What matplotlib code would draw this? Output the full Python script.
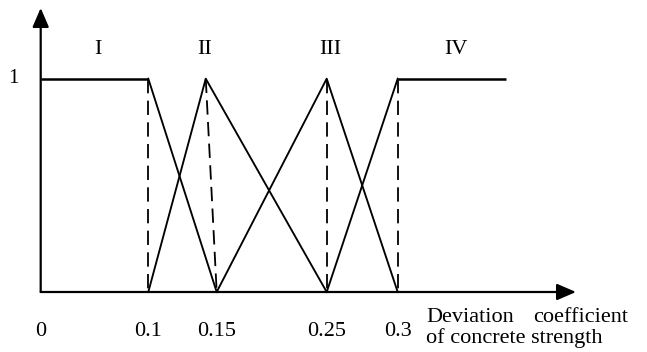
import numpy as np
import matplotlib
matplotlib.use("Agg")
import matplotlib.pyplot as plt

plt.rcParams['font.family'] = ['Liberation Serif', 'DejaVu Serif']
plt.rcParams['lines.scale_dashes'] = False

# ---- data (membership functions, x = deviation coefficient, y = membership) ----
tick_values = [0, 0.1, 0.15, 0.25, 0.3]
tick_labels = ["0", "0.1", "0.15", "0.25", "0.3"]

mf_I_x = [0, 0.1, 0.15]
mf_I_y = [1, 1, 0]
mf_II_x = [0.1, 0.142, 0.25]
mf_II_y = [0, 1, 0]
mf_III_x = [0.15, 0.25, 0.3]
mf_III_y = [0, 1, 0]
mf_IV_x = [0.25, 0.3, 0.376]
mf_IV_y = [0, 1, 1]

dash_x0 = [0.1, 0.142, 0.25, 0.3]
dash_x1 = [0.1, 0.15, 0.25, 0.3]

region_labels = ["I", "II", "III", "IV"]

# ---- figure geometry ----
W, H = 647, 352
fig = plt.figure(figsize=(W / 100, H / 100), dpi=100)
ax = fig.add_axes([0, 0, 1, 1])
ax.set_axis_off()

# non-uniform drawing scale of the original sketch
knot_px = np.array([40.7, 148.3, 216.7, 326.7, 397.7])
knot_v = np.array(tick_values, dtype=float)
s0 = (knot_px[1] - knot_px[0]) / (knot_v[1] - knot_v[0])
s1 = (knot_px[-1] - knot_px[-2]) / (knot_v[-1] - knot_v[-2])


def fwd(v):
    v = np.asarray(v, dtype=float)
    out = np.interp(v, knot_v, knot_px)
    out = np.where(v < knot_v[0], knot_px[0] + (v - knot_v[0]) * s0, out)
    out = np.where(v > knot_v[-1], knot_px[-1] + (v - knot_v[-1]) * s1, out)
    return out


def inv(p):
    p = np.asarray(p, dtype=float)
    out = np.interp(p, knot_px, knot_v)
    out = np.where(p < knot_px[0], knot_v[0] + (p - knot_px[0]) / s0, out)
    out = np.where(p > knot_px[-1], knot_v[-1] + (p - knot_px[-1]) / s1, out)
    return out


ax.set_xscale('function', functions=(fwd, inv))
ax.set_xlim(float(inv(0)), float(inv(W)))
y0_px, y1_px = 292.0, 78.7  # pixel rows (from top) of y=0 and y=1
unit = y0_px - y1_px
ax.set_ylim(-(H - y0_px) / unit, y0_px / unit)


def ypx(py):
    return (y0_px - py) / unit


# ---- axes with arrows ----
arrow_kw = dict(arrowstyle='-|>,head_length=0.58,head_width=0.25',
                mutation_scale=20, lw=1.6, color='black',
                shrinkA=0, shrinkB=0)
ax.annotate('', xy=(0, ypx(8)), xytext=(0, 0), arrowprops=arrow_kw)
ax.annotate('', xy=(float(inv(576)), 0), xytext=(0, 0), arrowprops=arrow_kw)

# ---- membership functions ----
col = 'black'
lw_d = 1.35
ax.plot(mf_I_x[:2], mf_I_y[:2], color=col, lw=1.8, solid_capstyle='butt')
ax.plot(mf_I_x[1:], mf_I_y[1:], color=col, lw=lw_d)
ax.plot(mf_II_x, mf_II_y, color=col, lw=lw_d)
ax.plot(mf_III_x, mf_III_y, color=col, lw=lw_d)
ax.plot(mf_IV_x[:2], mf_IV_y[:2], color=col, lw=lw_d)
ax.plot(mf_IV_x[1:], mf_IV_y[1:], color=col, lw=1.8, solid_capstyle='butt')

for xa, xb in zip(dash_x0, dash_x1):
    ax.plot([xa, xb], [1, 0], color=col, lw=1.3, dashes=(10.3, 5.3))

# ---- text ----
fs = 16
for v, lab in zip(tick_values, tick_labels):
    ax.text(v, ypx(336.5), lab, ha='center', va='baseline', fontsize=fs)

ax.text(float(inv(13.7)), 1, "1", ha='center', va='center', fontsize=15)

region_px = [97.7, 205.0, 329.8, 455.5]
for px, lab in zip(region_px, region_labels):
    ax.text(float(inv(px)), ypx(50), lab, ha='center', va='center', fontsize=fs)

ax.text(float(inv(426)), ypx(322.5), "Deviation", ha='left', va='baseline', fontsize=fs)
ax.text(float(inv(532.7)), ypx(322.5), "coefficient", ha='left', va='baseline', fontsize=fs)
ax.text(float(inv(426)), ypx(343.5), "of concrete strength", ha='left', va='baseline', fontsize=fs)

fig.savefig("out.png", dpi=100)
